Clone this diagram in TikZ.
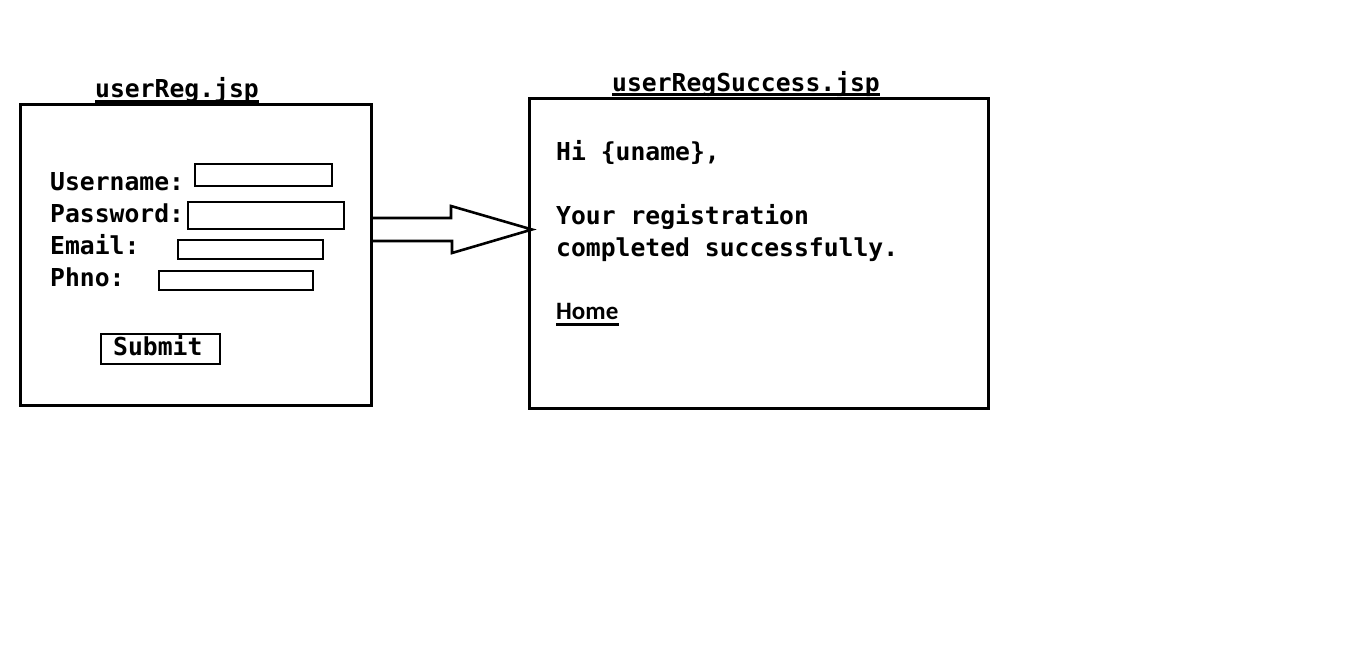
\documentclass[tikz,border=0pt]{standalone}
\usepackage{fontspec}
\setmonofont{DejaVu Sans Mono}
\newfontfamily\lienfont{Carlito}
\begin{document}
\begin{tikzpicture}[x=1pt,y=-1pt]
\tikzset{cadre/.style={draw, line width=3pt, inner sep=0pt, outer sep=0pt, anchor=north west}}
\tikzset{champ/.style={cadre, line width=2.6pt}}
\tikzset{texte/.style={inner sep=0pt, anchor=base west, font=\ttfamily\bfseries\fontsize{24.7}{30}\selectfont}}
\tikzset{souligne/.style={line width=3pt}}
\useasboundingbox (0,0) rectangle (1359,654);
\node[cadre, minimum width=351pt, minimum height=301pt] (P1) at (20,104) {};
\node[cadre, minimum width=459pt, minimum height=310pt] (P2) at (529,98) {};
\node[texte] (T1) at (95,97.5) {userReg.jsp};
\node[texte] (T2) at (612,91) {userRegSuccess.jsp};
\draw[souligne] ([yshift=-4pt]T1.base west) -- ([yshift=-4pt]T1.base east);
\draw[souligne] ([yshift=-3.5pt]T2.base west) -- ([yshift=-3.5pt]T2.base east);
\node[texte] (L1) at (50,190) {Username:};
\node[texte] (L2) at (50,222) {Password:};
\node[texte] (L3) at (50,254) {Email:};
\node[texte] (L4) at (50,286) {Phno:};
\node[champ, minimum width=137pt, minimum height=22pt] (C1) at (195,164) {};
\node[champ, minimum width=156pt, minimum height=27pt] (C2) at (188,202) {};
\node[champ, minimum width=145pt, minimum height=19pt] (C3) at (178,240) {};
\node[champ, minimum width=154pt, minimum height=19pt] (C4) at (159,271) {};
\node[champ, minimum width=119pt, minimum height=30pt] (S1) at (101,334) {};
\node[texte] (S2) at (113,355) {Submit};
\node[texte] (M1) at (556,160) {Hi \{uname\},};
\node[texte] (M2) at (556,224) {Your registration};
\node[texte] (M3) at (556,256) {completed successfully.};
\node[texte, font=\lienfont\bfseries\fontsize{25}{29}\selectfont] (M4) at (556,319) {Home};
\draw[souligne] ([yshift=-5.5pt]M4.base west) -- ([yshift=-5.5pt]M4.base east);
\coordinate (A0) at (P1.east |- 0,229.5);
\coordinate (A1) at (P2.west |- 0,229.5);
\draw[line width=2.6pt, line join=miter] (A0) ++(0,-11.5) -- ++(80,0) -- ++(0,-12) -- ([xshift=3pt]A1) -- (452,253) -- ++(0,-12) -- (A0 |- 0,241);
\end{tikzpicture}
\end{document}
